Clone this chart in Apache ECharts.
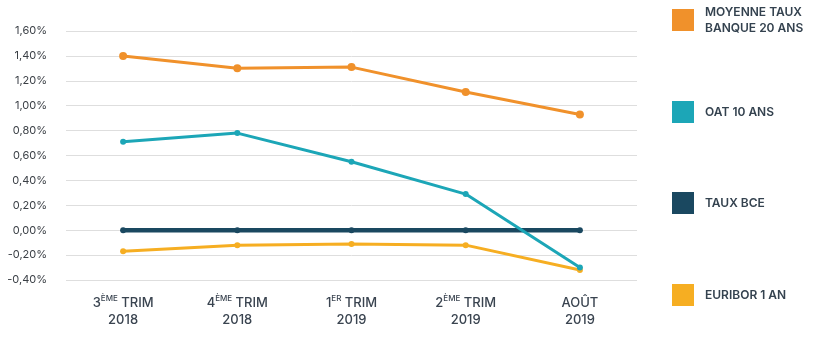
<!DOCTYPE html>
<html><head><meta charset="utf-8">
<script src="https://cdn.jsdelivr.net/npm/echarts@6/dist/echarts.min.js"></script>
<style>html,body{margin:0;padding:0;background:#fff}#c{width:815px;height:340px}</style>
</head><body><div id="c"></div>
<script>
var categories = ['3{s|ÈME} TRIM\n2018', '4{s|ÈME} TRIM\n2018', '1{s|ER} TRIM\n2019', '2{s|ÈME} TRIM\n2019', 'AOÛT\n2019'];
var seriesNames = ['MOYENNE TAUX BANQUE 20 ANS', 'OAT 10 ANS', 'TAUX BCE', 'EURIBOR 1 AN'];
var legendLabels = ['MOYENNE TAUX\nBANQUE 20 ANS', 'OAT 10 ANS', 'TAUX BCE', 'EURIBOR 1 AN'];
var banque20 = [1.40, 1.30, 1.31, 1.11, 0.93];
var oat10 = [0.71, 0.78, 0.55, 0.29, -0.30];
var tauxBce = [0, 0, 0, 0, 0];
var euribor1 = [-0.17, -0.12, -0.11, -0.12, -0.32];
var yTicks = [-0.4, 1.6, 0.2];

var colors = ['#F0912B', '#1CA6B7', '#1A4860', '#F6AE22'];
var values = [banque20, oat10, tauxBce, euribor1];
var widths = [3, 3, 4.5, 3];
var symSizes = [8, 6, 6, 6];
var legendTops = [4, 101, 192, 284];

var chart = echarts.init(document.getElementById('c'));
var series = seriesNames.map(function (n, i) {
  return {
    name: n, type: 'line', data: values[i], z: i === 2 ? 3 : (i === 1 ? 4 : 2),
    symbol: 'circle', symbolSize: symSizes[i], showSymbol: true,
    lineStyle: { color: colors[i], width: widths[i] },
    itemStyle: { color: colors[i] }
  };
});
var legends = seriesNames.map(function (n, i) {
  return {
    data: [n], left: 672, top: legendTops[i], orient: 'vertical', padding: 0,
    icon: 'rect', itemWidth: 22, itemHeight: 22, itemGap: 0,
    formatter: function () { return legendLabels[i]; },
    textStyle: { fontFamily: 'Inter', fontSize: 12, fontWeight: 600, color: '#34424f', lineHeight: 16, padding: [0, 0, 0, 6] },
    selectedMode: false
  };
});
chart.setOption({
  animation: false,
  color: colors,
  grid: { left: 66, right: 178, top: 31, bottom: 60 },
  legend: legends,
  xAxis: {
    type: 'category', data: categories, boundaryGap: true,
    axisLine: { show: false }, axisTick: { show: false },
    axisLabel: {
      interval: 0, margin: 15, color: '#3a4450', fontFamily: 'Inter', fontSize: 13, fontWeight: 500, lineHeight: 17,
      rich: { s: { fontSize: 8, fontFamily: 'Inter', fontWeight: 500, color: '#3a4450', verticalAlign: 'top', padding: [0, 0, 5, 0] } }
    }
  },
  yAxis: {
    type: 'value', min: yTicks[0], max: yTicks[1], interval: yTicks[2],
    axisLine: { show: false }, axisTick: { show: false },
    splitLine: { lineStyle: { color: '#dedede', width: 1 } },
    axisLabel: {
      margin: 19, color: '#3a3f45', fontFamily: 'Inter', fontSize: 11,
      formatter: function (v) { return v.toFixed(2).replace('.', ',') + '%'; }
    }
  },
  series: series
});
</script></body></html>
